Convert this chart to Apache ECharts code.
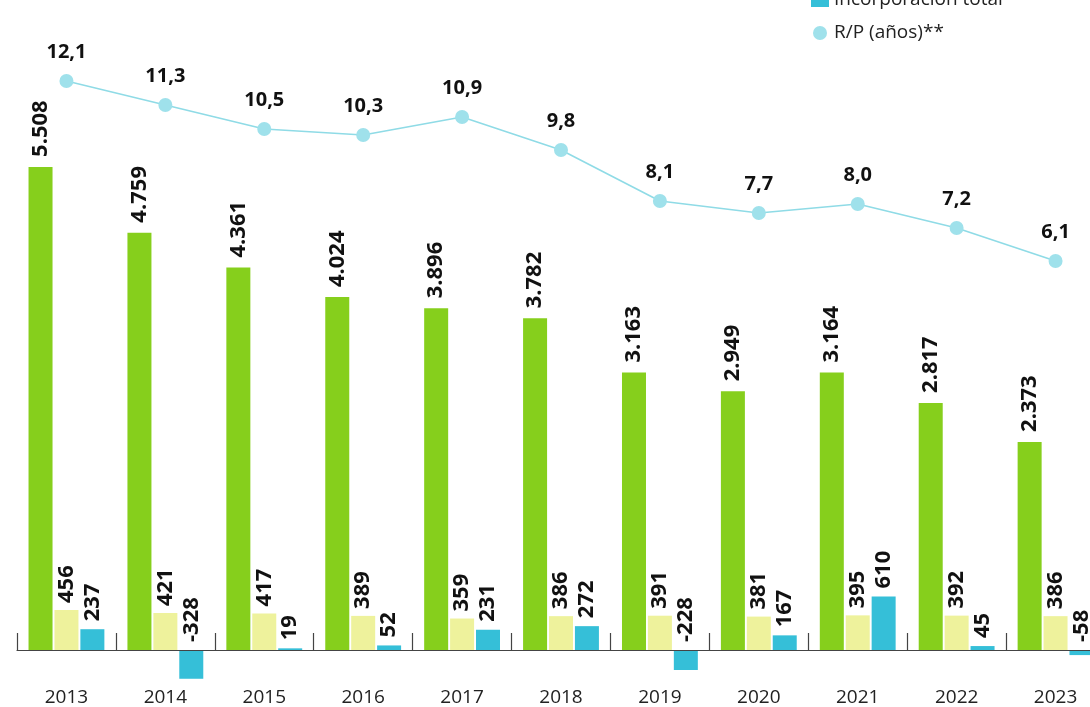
<!DOCTYPE html>
<html>
<head>
<meta charset="utf-8">
<script src="https://cdn.jsdelivr.net/npm/echarts@6/dist/echarts.min.js"></script>
<style>
html,body{margin:0;padding:0;background:#ffffff;}
#c{width:1090px;height:707px;}
</style>
</head>
<body>
<div id="c"></div>
<script>
const years = ['2013','2014','2015','2016','2017','2018','2019','2020','2021','2022','2023'];
const reservas = [5508, 4759, 4361, 4024, 3896, 3782, 3163, 2949, 3164, 2817, 2373];
const produccion = [456, 421, 417, 389, 359, 386, 391, 381, 395, 392, 386];
const incorporacion = [237, -328, 19, 52, 231, 272, -228, 167, 610, 45, -58];
const rp = [12.1, 11.3, 10.5, 10.3, 10.9, 9.8, 8.1, 7.7, 8.0, 7.2, 6.1];

const FONT = '"Open Sans", "Noto Sans", sans-serif';
const fmtThousands = v => {
  const s = Math.abs(v).toString();
  const t = s.length > 3 ? s.slice(0, s.length - 3) + '.' + s.slice(s.length - 3) : s;
  return (v < 0 ? '-' : '') + t;
};
const fmtDec = v => v.toFixed(1).replace('.', ',');

const barLabel = (dist) => ({
  show: true,
  position: 'top',
  rotate: 90,
  align: 'left',
  verticalAlign: 'middle',
  distance: dist,
  fontFamily: FONT,
  fontWeight: 'bold',
  fontSize: 22,
  color: '#111',
  formatter: p => fmtThousands(p.value)
});

const chart = echarts.init(document.getElementById('c'), null, {renderer: 'canvas'});
chart.setOption({
  backgroundColor: '#ffffff',
  animation: false,
  legend: {
    orient: 'vertical',
    left: 806,
    top: -15,
    itemWidth: 18,
    itemHeight: 14,
    itemGap: 13,
    textStyle: {fontFamily: FONT, fontSize: 19, color: '#222', lineHeight: 20},
    data: [
      {name: 'Incorporación total', icon: 'rect'},
      {name: 'R/P (años)**', icon: 'circle'}
    ]
  },
  grid: {left: 17, right: -15, top: 36.1, bottom: 57, containLabel: false, outerBoundsMode: 'none'},
  xAxis: {
    type: 'category',
    data: years,
    position: 'bottom',
    axisLine: {onZero: false, lineStyle: {color: '#444', width: 1.2}},
    axisTick: {show: true, inside: true, length: 17, lineStyle: {color: '#444', width: 1.2}},
    axisLabel: {margin: 38, fontFamily: FONT, fontSize: 19, color: '#222'},
    z: 10
  },
  yAxis: [
    {type: 'value', min: 0, max: 7000, show: false, splitLine: {show: false}},
    {type: 'value', min: -6.867, max: 13.597, show: false, splitLine: {show: false}}
  ],
  series: [
    {
      name: 'Reservas probadas', type: 'bar', data: reservas,
      barWidth: 24, barGap: '8%', clip: false,
      itemStyle: {color: '#86cf1c'},
      label: barLabel(10)
    },
    {
      name: 'Producción', type: 'bar', data: produccion,
      barWidth: 24, barGap: '8%', clip: false,
      itemStyle: {color: '#eef29c'},
      label: barLabel(7)
    },
    {
      name: 'Incorporación total', type: 'bar', data: incorporacion,
      barWidth: 24, barGap: '8%', clip: false,
      itemStyle: {color: '#35bfd8'},
      label: barLabel(8)
    },
    {
      name: 'R/P (años)**', type: 'line', yAxisIndex: 1, data: rp,
      symbol: 'circle', symbolSize: 14, clip: false,
      lineStyle: {color: '#8fdbe6', width: 1.6},
      itemStyle: {color: '#9fe1eb'},
      label: {
        show: true, position: 'top', distance: 12,
        fontFamily: FONT, fontWeight: 'bold', fontSize: 20, color: '#111',
        formatter: p => fmtDec(p.value)
      },
      z: 5
    }
  ]
});
</script>
</body>
</html>
